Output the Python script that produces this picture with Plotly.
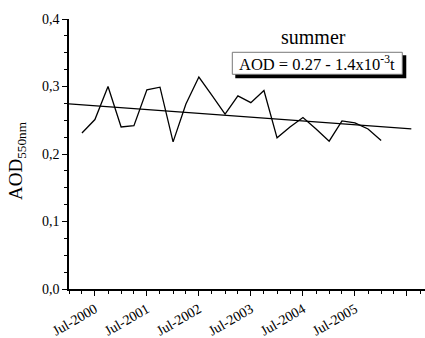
import pandas as pd
import plotly.graph_objects as go

# Summer-season AOD at 550 nm, one value per quarter (Apr-2000 ... Jan-2006)
start = pd.Timestamp("2000-01-01")
quarter_index = list(range(1, 25))
aod_values = [0.231, 0.251, 0.300, 0.240, 0.242, 0.295, 0.299, 0.218,
              0.274, 0.314, 0.287, 0.259, 0.286, 0.276, 0.294, 0.224,
              0.240, 0.254, 0.237, 0.219, 0.249, 0.246, 0.237, 0.220]
dates = [start + pd.DateOffset(months=3 * k) for k in quarter_index]

# Linear trend: AOD = 0.27 - 1.4e-3 t  (t in quarters from Oct-2000)
trend_intercept = 0.27
trend_slope = -1.4e-3
trend_origin_q = 3
trend_span_q = [0, 79 / 3]
trend_dates = [start + pd.DateOffset(months=round(3 * q)) for q in trend_span_q]
trend_values = [trend_intercept + trend_slope * (q - trend_origin_q) for q in trend_span_q]

tick_dates = [f"{y}-07-01" for y in range(2000, 2007)]
tick_labels = ["Jul-2000", "Jul-2001", "Jul-2002", "Jul-2003", "Jul-2004", "Jul-2005", ""]

font_family = "Liberation Serif, Times New Roman, serif"

fig = go.Figure()
fig.add_trace(go.Scatter(x=dates, y=aod_values, mode="lines",
                         line=dict(color="black", width=1.3), showlegend=False))
fig.add_trace(go.Scatter(x=trend_dates, y=trend_values, mode="lines",
                         line=dict(color="black", width=1.3), showlegend=False))

# Equation box with drop shadow
fig.add_shape(type="rect", xref="paper", yref="paper",
              x0=0.4671, x1=0.9474, y0=0.7804, y1=0.8656,
              fillcolor="black", line=dict(width=0), layer="above")
fig.add_shape(type="rect", xref="paper", yref="paper",
              x0=0.4587, x1=0.9362, y0=0.7952, y1=0.8767,
              fillcolor="white", line=dict(color="#777777", width=1), layer="above")

fig.add_annotation(xref="paper", yref="paper", x=0.686, y=0.934,
                   text="summer", showarrow=False,
                   font=dict(family=font_family, size=20, color="black"),
                   xanchor="center", yanchor="middle")
fig.add_annotation(xref="paper", yref="paper", x=0.6966, y=0.836,
                   text="AOD = 0.27 - 1.4x10<sup>-3</sup>t", showarrow=False,
                   font=dict(family=font_family, size=16.5, color="black"),
                   xanchor="center", yanchor="middle")
fig.add_annotation(xref="paper", yref="paper", x=-0.146, y=0.474,
                   text="AOD<sub>550nm</sub>", showarrow=False, textangle=-90,
                   font=dict(family=font_family, size=19, color="black"),
                   xanchor="center", yanchor="middle")

fig.update_layout(
    width=425, height=338,
    margin=dict(l=69, r=0, t=19, b=49),
    paper_bgcolor="white", plot_bgcolor="white",
    separators=",.",
    font=dict(family=font_family, size=14, color="black"),
)
fig.update_xaxes(
    type="date", range=["2000-01-01", "2006-11-05"], automargin=False,
    tickvals=tick_dates, ticktext=tick_labels, tickangle=-30,
    ticks="outside", ticklen=5, tickwidth=1.2, tickcolor="black",
    minor=dict(dtick="M3", tick0="2000-01-01", ticks="outside", ticklen=3,
               tickwidth=1.2, tickcolor="black", showgrid=False),
    showline=True, linecolor="black", linewidth=1.5,
    showgrid=False, zeroline=False,
    tickfont=dict(family=font_family, size=14),
)
fig.update_yaxes(
    range=[0, 0.4], dtick=0.1, tickformat=".1f", automargin=False,
    ticks="outside", ticklen=5, tickwidth=1.2, tickcolor="black",
    minor=dict(dtick=0.025, ticks="outside", ticklen=3, tickwidth=1.2,
               tickcolor="black", showgrid=False),
    showline=True, linecolor="black", linewidth=1.5,
    showgrid=False, zeroline=False,
    tickfont=dict(family=font_family, size=14),
)

fig.write_html("out.html")
